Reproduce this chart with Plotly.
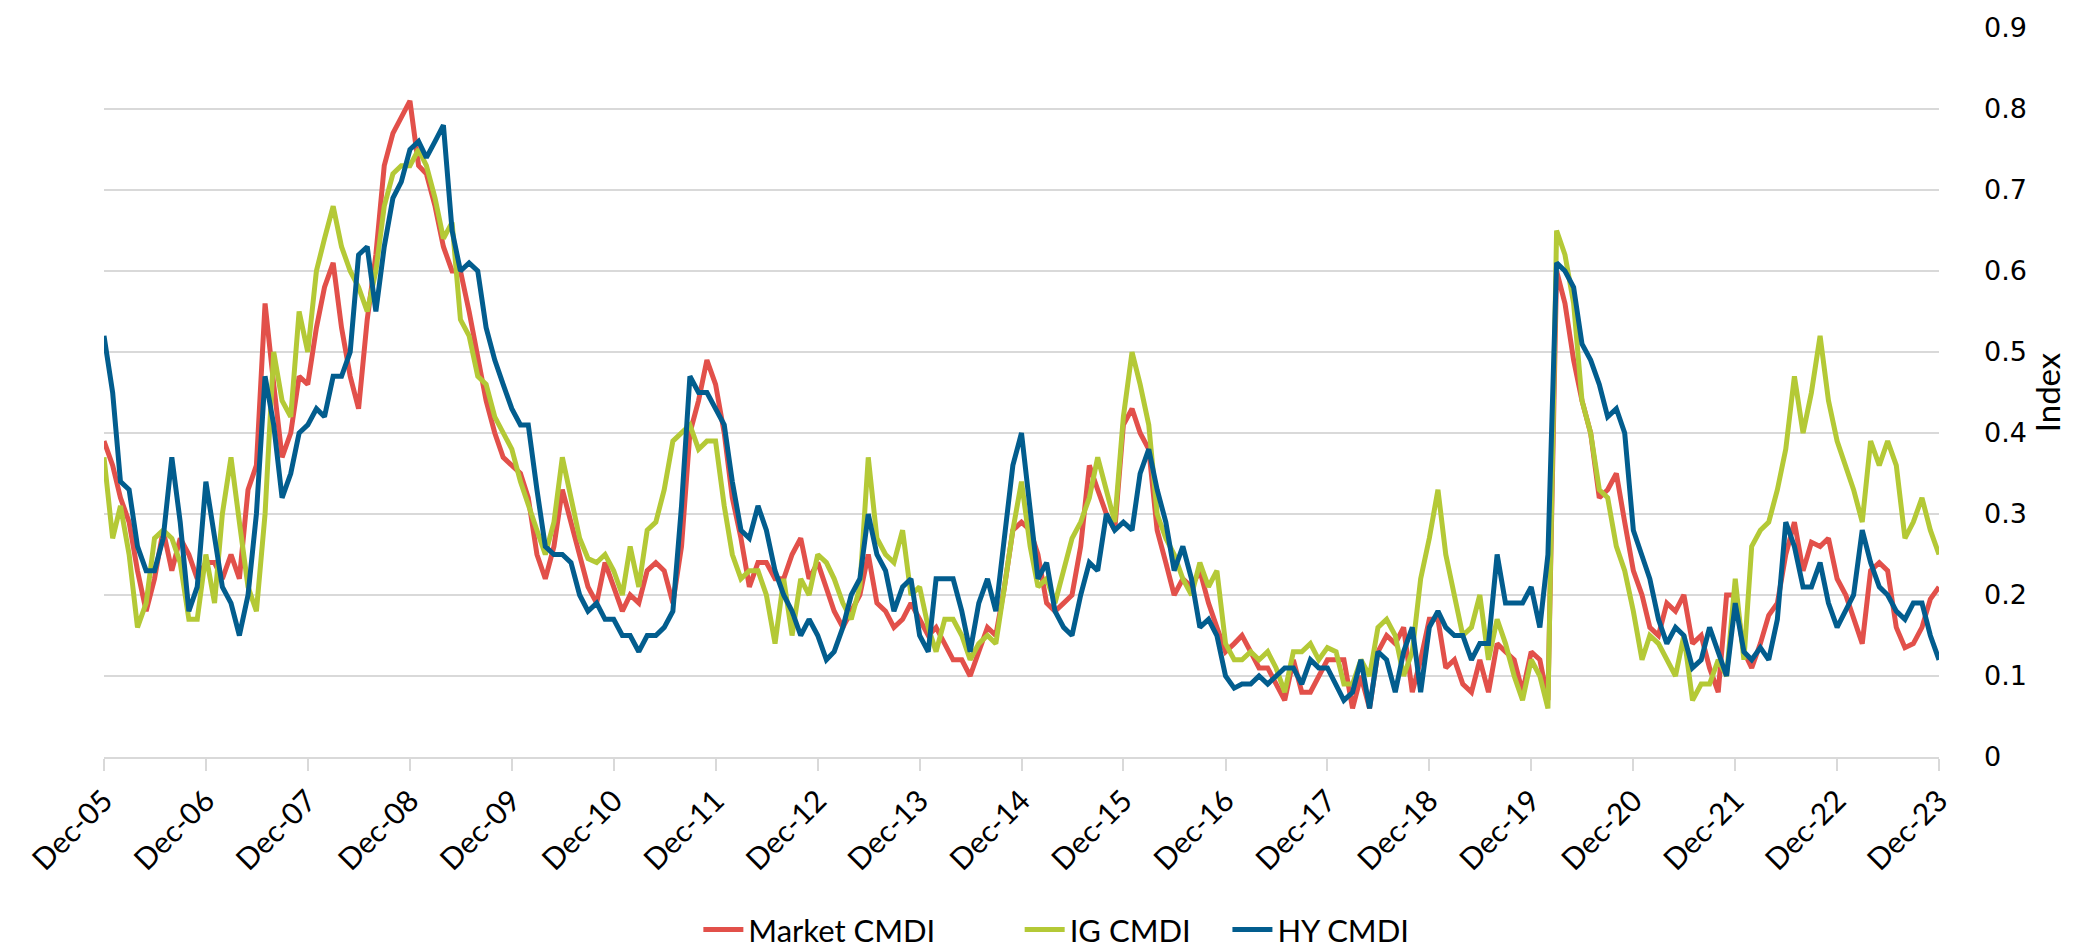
import pandas as pd
import plotly.graph_objects as go

# monthly readings, Dec-05 .. Dec-23
dates = pd.date_range("2005-12-31", "2023-12-31", freq="ME")

market_cmdi = [
    0.39, 0.36, 0.32, 0.29, 0.23, 0.18, 0.22, 0.28, 0.23, 0.27, 0.25, 0.22,
    0.24, 0.24, 0.22, 0.25, 0.22, 0.33, 0.36, 0.56, 0.46, 0.37, 0.40, 0.47,
    0.46, 0.53, 0.58, 0.61, 0.53, 0.47, 0.43, 0.54, 0.62, 0.73, 0.77, 0.79,
    0.81, 0.73, 0.72, 0.68, 0.63, 0.60, 0.60, 0.55, 0.49, 0.44, 0.40, 0.37,
    0.36, 0.35, 0.32, 0.25, 0.22, 0.26, 0.33, 0.29, 0.25, 0.21, 0.19, 0.24,
    0.21, 0.18, 0.20, 0.19, 0.23, 0.24, 0.23, 0.19, 0.26, 0.40, 0.44, 0.49,
    0.46, 0.40, 0.32, 0.27, 0.21, 0.24, 0.24, 0.22, 0.22, 0.25, 0.27, 0.22,
    0.24, 0.21, 0.18, 0.16, 0.18, 0.20, 0.25, 0.19, 0.18, 0.16, 0.17, 0.19,
    0.17, 0.15, 0.16, 0.14, 0.12, 0.12, 0.10, 0.13, 0.16, 0.15, 0.21, 0.28,
    0.29, 0.28, 0.25, 0.19, 0.18, 0.19, 0.20, 0.26, 0.36, 0.33, 0.30, 0.28,
    0.41, 0.43, 0.40, 0.38, 0.28, 0.24, 0.20, 0.22, 0.21, 0.23, 0.19, 0.16,
    0.13, 0.14, 0.15, 0.13, 0.11, 0.11, 0.09, 0.07, 0.12, 0.08, 0.08, 0.10,
    0.12, 0.12, 0.12, 0.06, 0.10, 0.06, 0.13, 0.15, 0.14, 0.16, 0.08, 0.12,
    0.17, 0.17, 0.11, 0.12, 0.09, 0.08, 0.12, 0.08, 0.14, 0.13, 0.12, 0.08,
    0.13, 0.12, 0.07, 0.60, 0.56, 0.49, 0.44, 0.40, 0.32, 0.33, 0.35, 0.29,
    0.23, 0.20, 0.16, 0.15, 0.19, 0.18, 0.20, 0.14, 0.15, 0.11, 0.08, 0.20,
    0.20, 0.13, 0.11, 0.14, 0.175, 0.19, 0.25, 0.29, 0.23, 0.265, 0.26, 0.27,
    0.22, 0.20, 0.17, 0.14, 0.23, 0.24, 0.23, 0.16, 0.135, 0.14, 0.16, 0.195,
    0.21,
]

ig_cmdi = [
    0.37, 0.27, 0.31, 0.25, 0.16, 0.19, 0.27, 0.28, 0.27, 0.24, 0.17, 0.17,
    0.25, 0.19, 0.30, 0.37, 0.29, 0.21, 0.18, 0.30, 0.50, 0.44, 0.42, 0.55,
    0.50, 0.60, 0.64, 0.68, 0.63, 0.60, 0.58, 0.55, 0.60, 0.68, 0.72, 0.73,
    0.73, 0.75, 0.73, 0.69, 0.64, 0.66, 0.54, 0.52, 0.47, 0.46, 0.42, 0.40,
    0.38, 0.34, 0.31, 0.28, 0.25, 0.29, 0.37, 0.32, 0.27, 0.245, 0.24, 0.25,
    0.23, 0.20, 0.26, 0.21, 0.28, 0.29, 0.33, 0.39, 0.40, 0.41, 0.38, 0.39,
    0.39, 0.31, 0.25, 0.22, 0.23, 0.23, 0.20, 0.14, 0.22, 0.15, 0.22, 0.20,
    0.25, 0.24, 0.22, 0.19, 0.17, 0.21, 0.37, 0.27, 0.25, 0.24, 0.28, 0.20,
    0.21, 0.16, 0.13, 0.17, 0.17, 0.15, 0.12, 0.14, 0.15, 0.14, 0.21, 0.28,
    0.34, 0.26, 0.21, 0.22, 0.19, 0.23, 0.27, 0.29, 0.32, 0.37, 0.33, 0.29,
    0.42, 0.50, 0.46, 0.41, 0.30, 0.27, 0.25, 0.22, 0.20, 0.24, 0.21, 0.23,
    0.14, 0.12, 0.12, 0.13, 0.12, 0.13, 0.11, 0.08, 0.13, 0.13, 0.14, 0.12,
    0.135, 0.13, 0.09, 0.09, 0.12, 0.10, 0.16, 0.17, 0.15, 0.10, 0.13, 0.22,
    0.27, 0.33, 0.25, 0.20, 0.15, 0.16, 0.20, 0.12, 0.17, 0.14, 0.10, 0.07,
    0.12, 0.10, 0.06, 0.65, 0.62, 0.56, 0.44, 0.40, 0.33, 0.32, 0.26, 0.23,
    0.18, 0.12, 0.15, 0.14, 0.12, 0.10, 0.15, 0.07, 0.09, 0.09, 0.12, 0.10,
    0.22, 0.12, 0.26, 0.28, 0.29, 0.33, 0.38, 0.47, 0.40, 0.45, 0.52, 0.44,
    0.39, 0.36, 0.33, 0.29, 0.39, 0.36, 0.39, 0.36, 0.27, 0.29, 0.32, 0.28,
    0.25,
]

hy_cmdi = [
    0.52, 0.45, 0.34, 0.33, 0.26, 0.23, 0.23, 0.27, 0.37, 0.29, 0.18, 0.21,
    0.34, 0.27, 0.21, 0.19, 0.15, 0.20, 0.30, 0.47, 0.41, 0.32, 0.35, 0.40,
    0.41, 0.43, 0.42, 0.47, 0.47, 0.50, 0.62, 0.63, 0.55, 0.63, 0.69, 0.71,
    0.75, 0.76, 0.74, 0.76, 0.78, 0.65, 0.60, 0.61, 0.60, 0.53, 0.49, 0.46,
    0.43, 0.41, 0.41, 0.33, 0.26, 0.25, 0.25, 0.24, 0.20, 0.18, 0.19, 0.17,
    0.17, 0.15, 0.15, 0.13, 0.15, 0.15, 0.16, 0.18, 0.31, 0.47, 0.45, 0.45,
    0.43, 0.41, 0.34, 0.28, 0.27, 0.31, 0.28, 0.23, 0.20, 0.18, 0.15, 0.17,
    0.15, 0.12, 0.13, 0.16, 0.20, 0.22, 0.30, 0.25, 0.23, 0.18, 0.21, 0.22,
    0.15, 0.13, 0.22, 0.22, 0.22, 0.18, 0.13, 0.19, 0.22, 0.18, 0.27, 0.36,
    0.40, 0.31, 0.22, 0.24, 0.18, 0.16, 0.15, 0.20, 0.24, 0.23, 0.30, 0.28,
    0.29, 0.28, 0.35, 0.38, 0.33, 0.29, 0.23, 0.26, 0.22, 0.16, 0.17, 0.15,
    0.10, 0.085, 0.09, 0.09, 0.10, 0.09, 0.10, 0.11, 0.11, 0.09, 0.12, 0.11,
    0.11, 0.09, 0.07, 0.08, 0.12, 0.06, 0.13, 0.12, 0.08, 0.13, 0.16, 0.08,
    0.16, 0.18, 0.16, 0.15, 0.15, 0.12, 0.14, 0.14, 0.25, 0.19, 0.19, 0.19,
    0.21, 0.16, 0.25, 0.61, 0.60, 0.58, 0.51, 0.49, 0.46, 0.42, 0.43, 0.40,
    0.28, 0.25, 0.22, 0.17, 0.14, 0.16, 0.15, 0.11, 0.12, 0.16, 0.13, 0.10,
    0.19, 0.13, 0.12, 0.135, 0.12, 0.17, 0.29, 0.26, 0.21, 0.21, 0.24, 0.19,
    0.16, 0.18, 0.20, 0.28, 0.24, 0.21, 0.20, 0.18, 0.17, 0.19, 0.19, 0.15,
    0.12,
]

tick_dates = [f"{y}-12-31" for y in range(2005, 2024)]
tick_labels = [f"Dec-{y % 100:02d}" for y in range(2005, 2024)]

# trailing no-break spaces widen the gap between legend entries
nb = "\u00a0"
series = [
    ("Market CMDI" + nb * 10, market_cmdi, "#E2504A"),
    ("IG CMDI" + nb * 4, ig_cmdi, "#B4C936"),
    ("HY CMDI", hy_cmdi, "#025D8E"),
]

fig = go.Figure()
for name, vals, col in series:
    fig.add_trace(go.Scatter(x=dates, y=vals, mode="lines", name=name,
                             line=dict(color=col, width=5)))

fig.update_layout(
    width=2081, height=947,
    margin=dict(l=96, r=150, t=20, b=198, autoexpand=False),
    paper_bgcolor="white", plot_bgcolor="white",
    font=dict(family="Lato", size=30, color="black"),
    showlegend=True,
    legend=dict(orientation="h", x=0.519, xanchor="center", y=-0.237, yanchor="middle",
                font=dict(family="Lato", size=31, color="black"),
                itemwidth=40, traceorder="normal"),
)
fig.update_xaxes(
    range=[dates[0], dates[-1]],
    tickmode="array", tickvals=tick_dates, ticktext=tick_labels,
    tickangle=-45, tickfont=dict(family="Lato", size=30, color="black"),
    showgrid=False, showline=True, linecolor="#D9D9D9", linewidth=2,
    ticks="outside", ticklen=12, tickwidth=2, tickcolor="#D9D9D9",
)
fig.update_yaxes(
    side="right", range=[0, 0.9], dtick=0.1,
    tickfont=dict(family="DejaVu Sans", size=27, color="black"),
    showgrid=True, gridcolor="#D9D9D9", gridwidth=2,
    zeroline=False, showline=False, ticks="", ticklabelstandoff=44,
    title=dict(text="Index", font=dict(family="Lato", size=33, color="black"), standoff=4),
)

fig.write_html("out.html")
